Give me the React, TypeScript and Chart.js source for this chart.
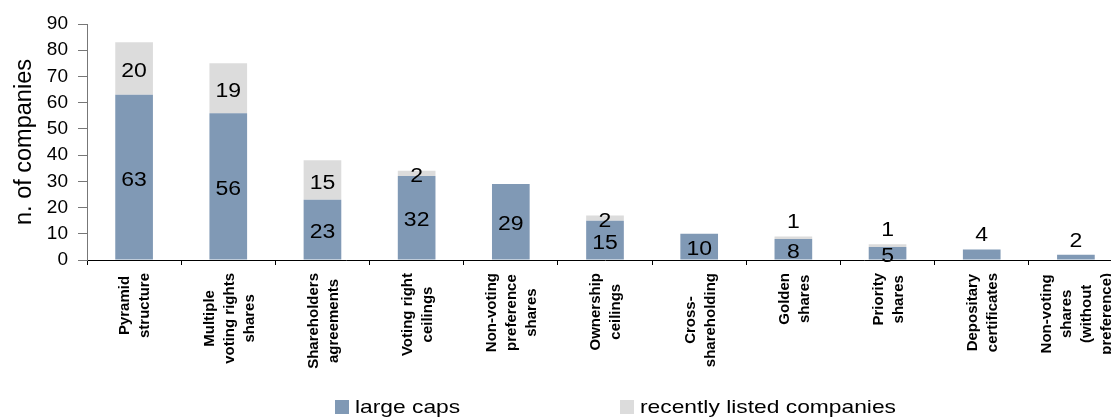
import React, { useEffect, useRef } from 'react';
import { Chart, registerables } from 'chart.js';

Chart.register(...registerables);

// ---- data ----
const categories: string[][] = [
  ['Pyramid', 'structure'],
  ['Multiple', 'voting rights', 'shares'],
  ['Shareholders', 'agreements'],
  ['Voting right', 'ceilings'],
  ['Non-voting', 'preference', 'shares'],
  ['Ownership', 'ceilings'],
  ['Cross-', 'shareholding'],
  ['Golden', 'shares'],
  ['Priority', 'shares'],
  ['Depositary', 'certificates'],
  ['Non-voting', 'shares', '(without', 'preference)'],
];
const largeCaps = [63, 56, 23, 32, 29, 15, 10, 8, 5, 4, 2];
const recentlyListed = [20, 19, 15, 2, 0, 2, 0, 1, 1, 0, 0];
const seriesNames = ['large caps', 'recently listed companies'];
const yAxisTitle = 'n. of companies';
const yMin = 0;
const yMax = 90;
const yStep = 10;

// ---- style ----
const FONT = '"Liberation Sans", Arial, Helvetica, sans-serif';
const COLORS = ['#8099B5', '#DCDCDC'];
// labels drawn above the bar segment instead of centred (dataset -> category indices)
const labelsAbove: number[][] = [[9, 10], [7, 8]];
const LEGEND_X = [335, 620];

function drawStretched(
  ctx: CanvasRenderingContext2D,
  text: string,
  x: number,
  baselineY: number,
  size: number,
  sx: number,
  align: CanvasTextAlign
) {
  ctx.save();
  ctx.translate(x, baselineY);
  ctx.scale(sx, 1);
  ctx.font = `${size}px ${FONT}`;
  ctx.fillStyle = '#000';
  ctx.textAlign = align;
  ctx.textBaseline = 'alphabetic';
  ctx.fillText(text, 0, 0);
  ctx.restore();
}

const customPlugin = {
  id: 'customDraw',
  afterDatasetsDraw(chart: any) {
    const ctx: CanvasRenderingContext2D = chart.ctx;
    const size = 19.5;
    chart.data.datasets.forEach((ds: any, di: number) => {
      const meta = chart.getDatasetMeta(di);
      meta.data.forEach((bar: any, i: number) => {
        const v = ds.data[i];
        if (!v) return;
        const p = bar.getProps(['x', 'y', 'base'], true);
        let cy = (p.y + p.base) / 2 + 1.5;
        if (labelsAbove[di].includes(i)) cy = p.y - 15;
        drawStretched(ctx, String(v), p.x, cy + 0.358 * size, size, 1.18, 'center');
      });
    });
  },
  afterDraw(chart: any) {
    const ctx: CanvasRenderingContext2D = chart.ctx;
    const xs = chart.scales.x;
    // x category labels: rotated, lines centred on each other
    const fs = 15;
    const lh = 20;
    ctx.save();
    ctx.font = `bold ${fs}px ${FONT}`;
    ctx.fillStyle = '#000';
    (chart.data.labels as string[][]).forEach((lines, i) => {
      const x = xs.getPixelForValue(i);
      const maxW = Math.max(...lines.map((l) => ctx.measureText(l).width));
      ctx.save();
      ctx.translate(x, xs.top + 13);
      ctx.rotate(-Math.PI / 2);
      ctx.textAlign = 'center';
      ctx.textBaseline = 'alphabetic';
      lines.forEach((line, j) => {
        const v = (j - (lines.length - 1) / 2) * lh + 0.358 * fs;
        ctx.fillText(line, -maxW / 2, v);
      });
      ctx.restore();
    });
    ctx.restore();

    // legend
    chart.data.datasets.forEach((ds: any, di: number) => {
      const bx = LEGEND_X[di];
      ctx.save();
      ctx.fillStyle = ds.backgroundColor;
      ctx.fillRect(bx, 400, 14, 14);
      ctx.restore();
      drawStretched(ctx, ds.label, bx + 20, 413, 19, 1.2, 'left');
    });
  },
};

export default function App() {
  const canvasRef = useRef<HTMLCanvasElement | null>(null);

  useEffect(() => {
    if (!canvasRef.current) return;
    const chart = new Chart(canvasRef.current, {
      type: 'bar',
      data: {
        labels: categories,
        datasets: [
          {
            label: seriesNames[0],
            data: largeCaps,
            backgroundColor: COLORS[0],
            borderWidth: 0,
            barPercentage: 0.4,
            categoryPercentage: 1,
          },
          {
            label: seriesNames[1],
            data: recentlyListed,
            backgroundColor: COLORS[1],
            borderWidth: 0,
            barPercentage: 0.4,
            categoryPercentage: 1,
          },
        ],
      },
      options: {
        animation: false,
        responsive: false,
        devicePixelRatio: 1,
        layout: { padding: { left: 0, right: 17, top: 24, bottom: 0 } },
        plugins: {
          legend: { display: false },
          tooltip: { enabled: false },
        },
        scales: {
          x: {
            stacked: true,
            offset: true,
            grid: {
              offset: true,
              drawOnChartArea: false,
              drawTicks: true,
              tickLength: 5,
              color: '#000',
            },
            border: { color: '#000', width: 1 },
            ticks: { display: false },
            afterFit: (s: any) => {
              s.height = 159;
            },
          },
          y: {
            stacked: true,
            min: yMin,
            max: yMax,
            ticks: {
              stepSize: yStep,
              color: '#000',
              padding: 10,
              font: { size: 19, family: FONT },
            },
            grid: {
              drawOnChartArea: false,
              tickLength: 9,
              color: '#777',
            },
            border: { color: '#777', width: 1 },
            title: {
              display: true,
              text: yAxisTitle,
              color: '#000',
              font: { size: 23.5, family: FONT },
              padding: { top: 10, bottom: 0 },
            },
            afterFit: (s: any) => {
              s.width = 87;
            },
          },
        },
      },
      plugins: [customPlugin],
    });
    return () => chart.destroy();
  }, []);

  return (
    <div
      style={{
        position: 'fixed',
        left: 0,
        top: 0,
        width: 1111,
        height: 419,
        overflow: 'hidden',
        background: '#fff',
      }}
    >
      <canvas
        ref={canvasRef}
        width={1140}
        height={419}
        style={{ display: 'block', width: 1140, height: 419 }}
      />
    </div>
  );
}
